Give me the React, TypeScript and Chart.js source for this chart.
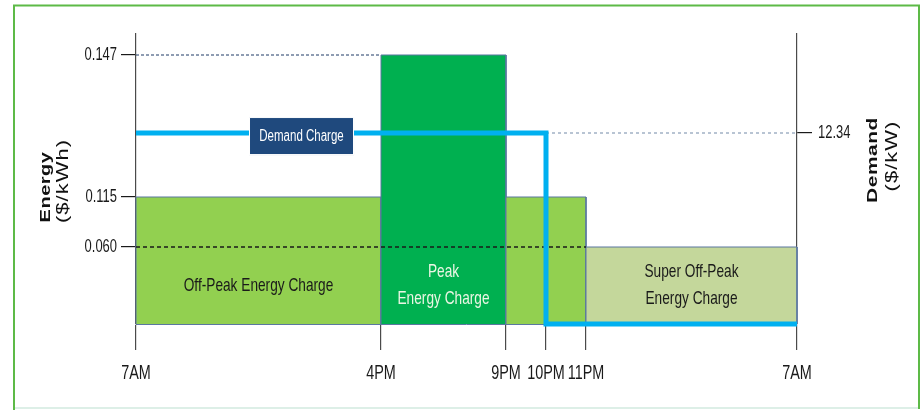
import React, { useEffect, useRef } from 'react';
import { Chart, registerables, LinearScale } from 'chart.js';

Chart.register(...registerables);

// ---------- data ----------
// hours counted from 7AM
const timeTicks = [0, 9, 14, 15, 16, 24];
const timeLabels = ['7AM', '4PM', '9PM', '10PM', '11PM', '7AM'];

const energyTicks = [0.06, 0.115, 0.147];
const energyTickLabels = ['0.060', '0.115', '0.147'];

const demandTicks = [12.34];
const demandTickLabels = ['12.34'];

const blockStarts = [0, 9, 14, 16];
const blockEnds = [9, 14, 16, 24];
const blockRates = [0.115, 0.147, 0.115, 0.06];
const blockNames = ['Off-Peak Energy Charge', 'Peak\nEnergy Charge', '', 'Super Off-Peak\nEnergy Charge'];

const demandHours = [0, 15, 15, 24];
const demandValues = [12.34, 12.34, 0, 0];

// ---------- styling / layout ----------
const FONT = '"Liberation Sans", Arial, sans-serif';
const SX = 0.72; // horizontal condensing of all text
const blockColors = ['#92D050', '#00B050', '#92D050', '#C4D79B'];
const blockTextColors = ['#1a1a1a', '#EAF6E4', '#1a1a1a', '#1a1a1a'];

// non-proportional axis spacing (value breaks -> fraction of axis length)
const xBreaks = [0, 9, 14, 15, 16, 24];
const xFractions = [0, 245 / 661, 370 / 661, 410 / 661, 450 / 661, 1];
const yBreaks = [0, 0.06, 0.115, 0.147, 0.155];
const yFractions = [0, 0.2655, 0.4379, 0.9276, 1];

function interp(v: number, xs: number[], ys: number[]) {
  const n = xs.length - 1;
  let i = 0;
  if (v <= xs[0]) i = 0;
  else if (v >= xs[n]) i = n - 1;
  else {
    while (i < n - 1 && v > xs[i + 1]) i++;
  }
  return ys[i] + ((v - xs[i]) * (ys[i + 1] - ys[i])) / (xs[i + 1] - xs[i]);
}

function makeBrokenScale(id: string, values: number[], fractions: number[]) {
  return class extends LinearScale {
    static id = id;
    getPixelForValue(value: number) {
      return this.getPixelForDecimal(interp(value, values, fractions));
    }
    getValueForPixel(pixel: number) {
      return interp(this.getDecimalForPixel(pixel), fractions, values);
    }
  };
}

const HourScale = makeBrokenScale('hourBroken', xBreaks, xFractions);
const EnergyScale = makeBrokenScale('energyBroken', yBreaks, yFractions);
Chart.register(HourScale as any, EnergyScale as any);

function cText(
  ctx: CanvasRenderingContext2D,
  text: string,
  x: number,
  y: number,
  font: string,
  color: string,
  align: CanvasTextAlign = 'center',
  angle = 0,
  spacing = '0px'
) {
  ctx.save();
  ctx.translate(x, y);
  if (angle) {
    ctx.rotate(angle);
    ctx.scale(1, SX);
  } else {
    ctx.scale(SX, 1);
  }
  ctx.font = font;
  ctx.fillStyle = color;
  ctx.textAlign = align;
  ctx.textBaseline = 'middle';
  (ctx as any).letterSpacing = spacing;
  ctx.fillText(text, 0, 0);
  ctx.restore();
}

const decorPlugin = {
  id: 'decor',
  beforeDraw(chart: any) {
    const ctx: CanvasRenderingContext2D = chart.ctx;
    ctx.save();
    ctx.fillStyle = '#ffffff';
    ctx.fillRect(0, 0, chart.width, chart.height);
    ctx.strokeStyle = '#DDEFE7';
    ctx.lineWidth = 2;
    ctx.beginPath();
    ctx.moveTo(14, 408);
    ctx.lineTo(919, 408);
    ctx.stroke();
    ctx.strokeStyle = '#5DBA47';
    ctx.lineWidth = 2;
    ctx.beginPath();
    ctx.moveTo(14, 410);
    ctx.lineTo(14, 5.5);
    ctx.lineTo(919, 5.5);
    ctx.lineTo(919, 409);
    ctx.stroke();
    ctx.restore();
  },
  afterDraw(chart: any) {
    const ctx: CanvasRenderingContext2D = chart.ctx;
    const xs = chart.scales.x;
    const ys = chart.scales.y;
    const y2 = chart.scales.y2;
    const dark = '#1a1a1a';

    // tick labels
    xs.ticks.forEach((_t: any, i: number) => {
      cText(ctx, timeLabels[i], xs.getPixelForTick(i), xs.top + 49, `20px ${FONT}`, dark, 'center');
    });
    ys.ticks.forEach((_t: any, i: number) => {
      cText(ctx, energyTickLabels[i], ys.right - 19, ys.getPixelForTick(i), `18px ${FONT}`, dark, 'right');
    });
    y2.ticks.forEach((_t: any, i: number) => {
      cText(ctx, demandTickLabels[i], y2.left + 21, y2.getPixelForTick(i), `18px ${FONT}`, dark, 'left');
    });

    // block labels
    const labelY = ys.getPixelForValue(Math.min(...blockRates) / 2);
    blockNames.forEach((name, i) => {
      if (!name) return;
      const cx = (xs.getPixelForValue(blockStarts[i]) + xs.getPixelForValue(blockEnds[i])) / 2;
      const lines = name.split('\n');
      const lh = 27;
      lines.forEach((ln, k) => {
        cText(ctx, ln, cx, labelY + (k - (lines.length - 1) / 2) * lh, `19px ${FONT}`, blockTextColors[i], 'center');
      });
    });

    // Demand Charge label box
    const bx = xs.getPixelForValue(6.08);
    const by = y2.getPixelForValue(demandValues[0]) + 3;
    const bw = 105;
    const bh = 38;
    ctx.save();
    ctx.fillStyle = '#1F497D';
    ctx.fillRect(bx - bw / 2, by - bh / 2, bw, bh);
    ctx.strokeStyle = '#ffffff';
    ctx.lineWidth = 1;
    ctx.strokeRect(bx - bw / 2 + 0.5, by - bh / 2 + 0.5, bw - 1, bh - 1);
    ctx.restore();
    cText(ctx, 'Demand Charge', bx, by + 1, `16px ${FONT}`, '#ffffff', 'center');

    // axis titles
    cText(ctx, 'Energy', 46, 187, `bold 20px ${FONT}`, '#111', 'center', -Math.PI / 2, '0.5px');
    cText(ctx, '($/kWh)', 64, 181, `22px ${FONT}`, '#111', 'center', -Math.PI / 2, '1px');
    cText(ctx, 'Demand', 873, 160, `bold 21px ${FONT}`, '#111', 'center', -Math.PI / 2, '0.5px');
    cText(ctx, '($/kW)', 893, 156, `22px ${FONT}`, '#111', 'center', -Math.PI / 2, '1px');
  },
};

export default function App() {
  const ref = useRef<HTMLCanvasElement>(null);
  useEffect(() => {
    const blockSets = blockStarts.map((s, i) => ({
      label: blockNames[i] || 'Off-Peak',
      data: [
        { x: s, y: 0 },
        { x: s, y: blockRates[i] },
        { x: blockEnds[i], y: blockRates[i] },
        { x: blockEnds[i], y: 0 },
      ],
      xAxisID: 'x',
      yAxisID: 'y',
      backgroundColor: blockColors[i],
      borderColor: '#5A77A0',
      borderWidth: 1,
      fill: 'origin',
      pointRadius: 0,
      tension: 0,
      clip: false,
      order: 20 - i,
    }));
    const peak = Math.max(...blockRates);
    const superOff = Math.min(...blockRates);
    const peakIdx = blockRates.indexOf(peak);
    const superIdx = blockRates.indexOf(superOff);
    const dropHour = demandHours[1];
    const refSets = [
      {
        label: 'peak ref',
        data: [{ x: 0, y: peak }, { x: blockStarts[peakIdx], y: peak }],
        yAxisID: 'y',
        borderColor: '#1F3A66',
        borderWidth: 1.2,
        borderDash: [3, 2],
        pointRadius: 0,
        fill: false,
        clip: false,
        order: 5,
      },
      {
        label: 'super ref',
        data: [{ x: 0, y: superOff }, { x: blockStarts[superIdx], y: superOff }],
        yAxisID: 'y',
        borderColor: '#1a1a1a',
        borderWidth: 1.3,
        borderDash: [4, 3],
        pointRadius: 0,
        fill: false,
        clip: false,
        order: 4,
      },
      {
        label: 'demand ref',
        data: [{ x: dropHour, y: demandValues[0] }, { x: timeTicks[timeTicks.length - 1], y: demandValues[0] }],
        yAxisID: 'y2',
        borderColor: '#7389A8',
        borderWidth: 1.1,
        borderDash: [3, 3],
        pointRadius: 0,
        fill: false,
        clip: false,
        order: 3,
      },
    ];
    const demandSet = {
      label: 'Demand Charge',
      data: demandHours.map((h, i) => ({ x: h, y: demandValues[i] })),
      yAxisID: 'y2',
      borderColor: '#00B0F0',
      borderWidth: 5,
      borderJoinStyle: 'miter',
      pointRadius: 0,
      fill: false,
      clip: false,
      order: 1,
    };

    const chart = new Chart(ref.current!, {
      type: 'line',
      data: { datasets: [demandSet, ...refSets, ...blockSets] as any },
      options: {
        responsive: false,
        animation: false,
        events: [],
        layout: { padding: { top: 34, left: 0, right: 0, bottom: 0 } },
        plugins: { legend: { display: false }, tooltip: { enabled: false } },
        scales: {
          x: {
            type: 'hourBroken' as any,
            min: 0,
            max: 24,
            offset: false,
            afterBuildTicks: (s: any) => {
              s.ticks = timeTicks.map((v) => ({ value: v }));
            },
            afterFit: (s: any) => {
              s.height = 86;
            },
            ticks: { display: false, autoSkip: false, maxRotation: 0, callback: (_v: any, i: number) => timeLabels[i] },
            grid: { drawOnChartArea: false, drawTicks: true, tickLength: 26, color: '#4a4a4a', lineWidth: 1.2 },
            border: { display: true, color: '#5A77A0', width: 1 },
          } as any,
          y: {
            type: 'energyBroken' as any,
            position: 'left',
            min: 0,
            max: 0.155,
            afterBuildTicks: (s: any) => {
              s.ticks = energyTicks.map((v) => ({ value: v }));
            },
            afterFit: (s: any) => {
              s.width = 136;
            },
            ticks: { display: false, callback: (_v: any, i: number) => energyTickLabels[i] },
            grid: { drawOnChartArea: false, drawTicks: true, tickLength: 15, color: '#1a1a1a', lineWidth: 1.2 },
            border: { display: true, color: '#4a4a4a', width: 1.2 },
          } as any,
          y2: {
            type: 'linear',
            position: 'right',
            min: 0,
            max: 18.74,
            afterBuildTicks: (s: any) => {
              s.ticks = demandTicks.map((v) => ({ value: v }));
            },
            afterFit: (s: any) => {
              s.width = 125;
            },
            ticks: { display: false, callback: (_v: any, i: number) => demandTickLabels[i] },
            grid: { drawOnChartArea: false, drawTicks: true, tickLength: 15, color: '#1a1a1a', lineWidth: 1.2 },
            border: { display: true, color: '#4a4a4a', width: 1.2 },
          } as any,
        },
      },
      plugins: [decorPlugin],
    });
    return () => chart.destroy();
  }, []);
  return (
    <div style={{ position: 'absolute', left: 0, top: 0, width: 922, height: 410 }}>
      <canvas ref={ref} width={922} height={410} style={{ display: 'block' }} />
    </div>
  );
}
